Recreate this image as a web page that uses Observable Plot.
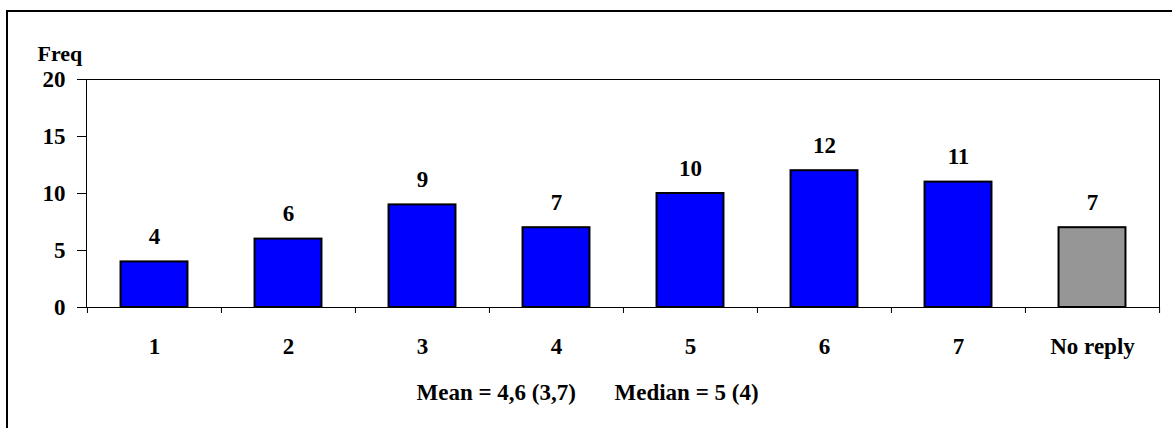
<!DOCTYPE html>
<html>
<head>
<meta charset="utf-8">
<script src="https://cdn.jsdelivr.net/npm/d3@7"></script>
<script src="https://cdn.jsdelivr.net/npm/@observablehq/plot@0.6"></script>
<style>
  html, body { margin: 0; padding: 0; background: white; }
  #wrap { position: relative; width: 1172px; height: 428px; overflow: hidden; }
  #border { position: absolute; left: 6px; top: 10px; width: 1300px; height: 600px;
            border-top: 2px solid #000; border-left: 2px solid #000; pointer-events: none; }
  svg text { white-space: pre; }
</style>
</head>
<body>
<div id="wrap"><div id="chart"></div><div id="border"></div></div>
<script>
const categories = ["1", "2", "3", "4", "5", "6", "7", "No reply"];
const freqs = [4, 6, 9, 7, 10, 12, 11, 7];
const yTicks = [0, 5, 10, 15, 20];
const yLabel = ["Freq"];
const footerMean = ["Mean = 4,6 (3,7)"];
const footerMedian = ["Median = 5 (4)"];

const data = categories.map((c, i) => ({cat: c, value: freqs[i]}));

const W = 1172, H = 428;
const mL = 86, mR = 13, mT = 79, mB = 121;
const bw = (W - mL - mR) / categories.length;
const font = "'Liberation Serif', 'Times New Roman', serif";

const chart = Plot.plot({
  width: W,
  height: H,
  marginLeft: mL,
  marginRight: mR,
  marginTop: mT,
  marginBottom: mB,
  style: {fontFamily: font, fontSize: "23px", fontWeight: "bold", color: "black", background: "white"},
  x: {type: "band", domain: categories, padding: 0, label: null},
  y: {domain: [0, 20], label: null},
  marks: [
    Plot.axisY({ticks: yTicks, tickSize: 9, tickPadding: 12, label: null, stroke: "black"}),
    Plot.axisX({tickSize: 0, tickPadding: 30, label: null}),
    Plot.barY(data, {
      x: "cat", y: "value",
      fill: d => d.cat === "No reply" ? "#969696" : "#0000FF",
      stroke: "black", strokeWidth: 2,
      insetLeft: bw / 4, insetRight: bw / 4
    }),
    Plot.frame({stroke: "black", strokeWidth: 1}),
    Plot.ruleX(categories, {x: d => d, dx: -bw / 2, y1: 0, y2: 0, insetBottom: -6, stroke: "black"}),
    Plot.ruleX(categories.slice(-1), {x: d => d, dx: bw / 2, y1: 0, y2: 0, insetBottom: -6, stroke: "black"}),
    Plot.text(data, {x: "cat", y: "value", text: d => String(d.value), dy: -25, lineAnchor: "middle", fill: "black"}),
    Plot.text(yLabel, {text: d => d, frameAnchor: "top-left", dx: -49, dy: -26, fontSize: 22, textAnchor: "start", lineAnchor: "middle", fill: "black"}),
    Plot.text(footerMean, {text: d => d, frameAnchor: "bottom-left", dx: 330, dy: 85.6, textAnchor: "start", lineAnchor: "middle", fill: "black"}),
    Plot.text(footerMedian, {text: d => d, frameAnchor: "bottom-left", dx: 528, dy: 85.6, textAnchor: "start", lineAnchor: "middle", fill: "black"})
  ]
});
document.getElementById("chart").appendChild(chart);
</script>
</body>
</html>
